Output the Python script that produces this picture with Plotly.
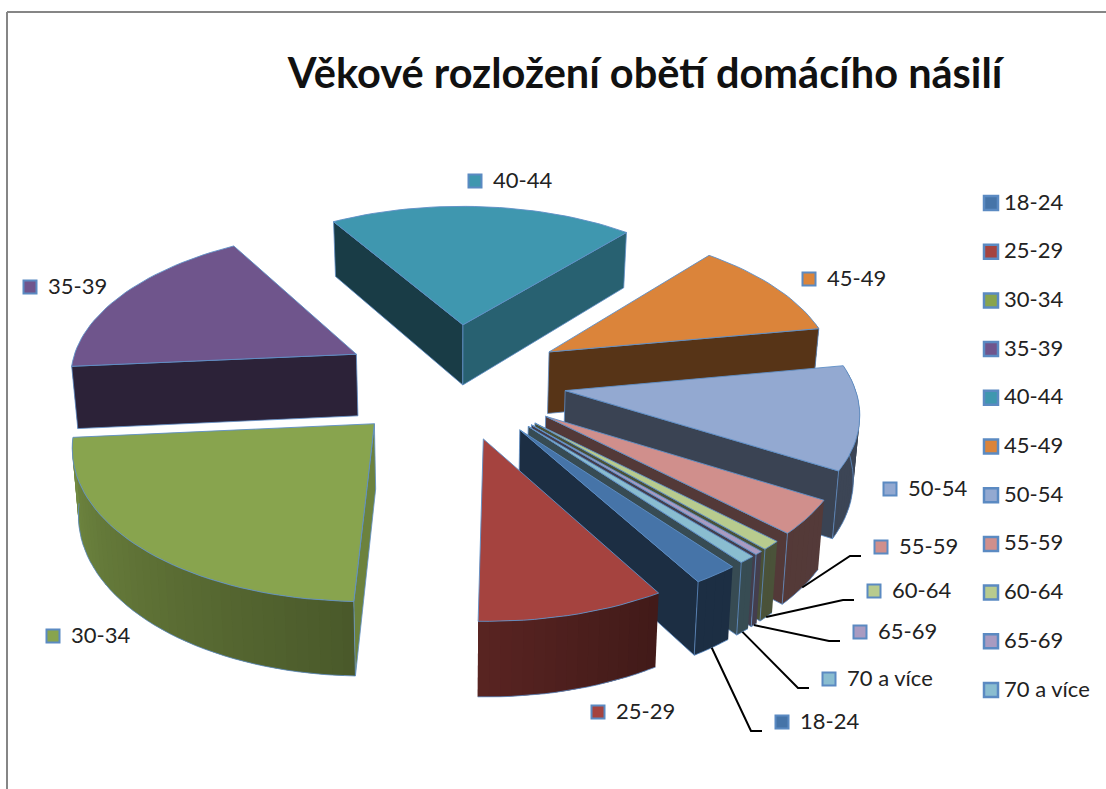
import math
import numpy as np
import plotly.graph_objects as go

# ---- data (share of victims, %) ----
categories = ["18-24", "25-29", "30-34", "35-39", "40-44", "45-49",
              "50-54", "55-59", "60-64", "65-69", "70 a více"]
values = [2.15, 8.9, 23.2, 17.8, 19.85, 11.0, 11.3, 3.7, 0.95, 0.4, 0.8]
top_colors = ["#4674A8", "#A5433F", "#88A44E", "#6F558C", "#3F97AF", "#DB843A",
              "#93A9D1", "#D08F8C", "#B8CB8E", "#A99BC1", "#8ABDD0"]
title_text = "Věkové rozložení obětí domácího násilí"

# ---- layout / projection settings ----
W, H = 1106, 789
CX, CY, RX, RY, DEPTH, PERSP = 454, 380, 288, 145, 63, 0.12
Z_SHRINK = 0.016
EXPLODE_U, EXPLODE_V = 0.389, 0.4
FIRST_ANGLE = 141.8
EDGE = "#5F8EC6"
FONT = "Lato"
label_anchor = {"18-24": (782, 722), "25-29": (598, 712), "30-34": (53, 636), "35-39": (30, 287),
                "40-44": (475, 181), "45-49": (809, 279), "50-54": (890, 489), "55-59": (881, 547),
                "60-64": (874, 591), "65-69": (860, 632), "70 a více": (829, 679)}
leader_labels = ["18-24", "55-59", "60-64", "65-69", "70 a více"]
LEGEND_X, LEGEND_TOP, LEGEND_STEP = 991, 203, 48.7


def project(u, v, z=0.0):
    w = 1 / (1 - PERSP * v)
    return CX + RX * u * w * (1 - Z_SHRINK * z), CY + RY * v * w + DEPTH * z * w


def ground(theta, r, off):
    t = math.radians(theta)
    return off[0] + r * math.sin(t), off[1] - r * math.cos(t)


def shade(color, f):
    rgb = [int(color[i:i + 2], 16) for i in (1, 3, 5)]
    return "rgb(%d,%d,%d)" % tuple(c * f for c in rgb)


def arc_factor(theta):
    return float(np.interp(theta, [80, 150, 182, 265], [.42, .40, .55, .85]))


def radial_factor(normal):
    return float(np.interp(normal % 360, [90, 130, 170, 240], [.8, .65, .4, .4]))


fig = go.Figure()


def poly(points, fill, line=None, lw=1.0):
    xs, ys = zip(*points)
    fig.add_trace(go.Scatter(x=list(xs) + [xs[0]], y=list(ys) + [ys[0]], mode="lines", fill="toself",
                             fillcolor=fill, line=dict(color=line or fill, width=lw),
                             hoverinfo="skip", showlegend=False))


# slice geometry from the values
total = sum(values)
slices, start = [], FIRST_ANGLE
for name, val, col in zip(categories, values, top_colors):
    ext = val / total * 360
    a, b = start, start + ext
    m = (a + b) / 2
    off = (EXPLODE_U * math.sin(math.radians(m)), -EXPLODE_V * math.cos(math.radians(m)))
    slices.append(dict(name=name, a=a, b=b, m=m, off=off, color=col))
    start = b

ARC_MIN, ARC_MAX = 78, 266
for s in sorted(slices, key=lambda q: q["off"][1]):
    a, b, off, col = s["a"], s["b"], s["off"], s["color"]
    ang = np.linspace(a, b, max(int((b - a) / 2.0) + 2, 3))
    # outer wall, in narrow overlapping shaded strips
    lo, hi = max(a % 360, ARC_MIN), min(a % 360 + (b - a), ARC_MAX)
    if hi > lo:
        edges = np.linspace(lo, hi, max(int((hi - lo) / 2.0) + 2, 2))
        for i in range(len(edges) - 1):
            t0, t1 = edges[i], edges[min(i + 2, len(edges) - 1)]
            g0, g1 = ground(t0, 1, off), ground(t1, 1, off)
            mid = ground((t0 + t1) / 2, 1, off)
            poly([project(*g0), project(*mid), project(*g1), project(*g1, 1), project(*mid, 1), project(*g0, 1)],
                 shade(col, arc_factor(edges[i])), None, 0)
        low = [project(*ground(t, 1, off), 1) for t in edges]
        fig.add_trace(go.Scatter(x=[p[0] for p in low], y=[p[1] for p in low], mode="lines",
                                 line=dict(color=EDGE, width=0.8), hoverinfo="skip", showlegend=False))
    # radial walls that face the viewer
    if math.sin(math.radians(a)) < 0:
        tip = ground(a, 1, off)
        poly([project(*off), project(*tip), project(*tip, 1), project(*off, 1)],
             shade(col, radial_factor(a - 90)), EDGE, 0.8)
    if math.sin(math.radians(b)) > 0:
        tip = ground(b, 1, off)
        poly([project(*off), project(*tip), project(*tip, 1), project(*off, 1)],
             shade(col, radial_factor(b + 90)), EDGE, 0.8)
    # top face
    poly([project(*off)] + [project(*ground(t, 1, off)) for t in ang], col, EDGE, 0.9)

# leader lines
by_name = {s["name"]: s for s in slices}
for name in leader_labels:
    s = by_name[name]
    sx, sy = project(*ground(s["m"], 1, s["off"]), 1)
    mx, my = label_anchor[name]
    fig.add_trace(go.Scatter(x=[sx, mx - 31, mx - 20], y=[sy, my + 9, my + 9], mode="lines",
                             line=dict(color="black", width=2), hoverinfo="skip", showlegend=False))

text_font = dict(family=FONT, size=22, color="#222222")
# data labels
lx = [label_anchor[c][0] for c in categories]
ly = [label_anchor[c][1] for c in categories]
fig.add_trace(go.Scatter(x=lx, y=ly, mode="markers",
                         marker=dict(symbol="square", size=13, color=top_colors, line=dict(color="#5B8AC2", width=2)),
                         hoverinfo="skip", showlegend=False))
fig.add_trace(go.Scatter(x=[x + 18 for x in lx], y=[y + 1 for y in ly], mode="text", text=categories,
                         textposition="middle right", textfont=text_font, hoverinfo="skip", showlegend=False))
# key at the right
ky = [LEGEND_TOP + i * LEGEND_STEP for i in range(len(categories))]
fig.add_trace(go.Scatter(x=[LEGEND_X] * len(categories), y=ky, mode="markers",
                         marker=dict(symbol="square", size=14, color=top_colors, line=dict(color="#5B8AC2", width=2.5)),
                         hoverinfo="skip", showlegend=False))
fig.add_trace(go.Scatter(x=[LEGEND_X + 13] * len(categories), y=[y + 1 for y in ky], mode="text", text=categories,
                         textposition="middle right", textfont=text_font, hoverinfo="skip", showlegend=False))

fig.update_layout(
    width=W, height=H, margin=dict(l=0, r=0, t=0, b=0), paper_bgcolor="white", plot_bgcolor="white",
    showlegend=False,
    title=dict(text="<b>" + title_text + "</b>", x=645 / W, xanchor="center", y=1 - 73 / H, yanchor="middle",
               font=dict(family=FONT, size=41.5, color="#111111")),
    xaxis=dict(range=[0, W], visible=False, fixedrange=True),
    yaxis=dict(range=[H, 0], visible=False, fixedrange=True),
    shapes=[dict(type="line", xref="x", yref="y", x0=7, x1=W, y0=12, y1=12, line=dict(color="#868686", width=2)),
            dict(type="line", xref="x", yref="y", x0=7, x1=7, y0=12, y1=H, line=dict(color="#868686", width=2))],
)
fig.write_html("out.html", config=dict(displayModeBar=False),
               post_script="document.body.style.margin='0';")
